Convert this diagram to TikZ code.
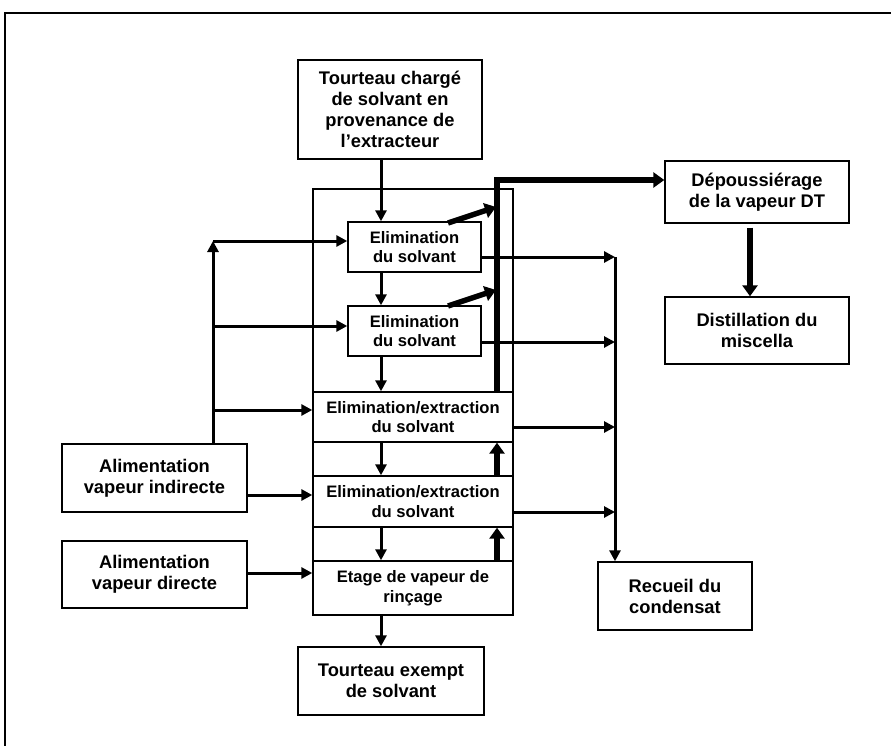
\documentclass[tikz,border=0pt]{standalone}
\usepackage{fontspec}
\setmainfont{Liberation Sans}
\usetikzlibrary{arrows.meta,calc}
\tikzset{
  box/.style={draw, line width=1.4pt, align=center, inner sep=0pt, font=\fontsize{18.3}{21}\selectfont\bfseries},
  ibox/.style={draw, line width=1.4pt, fill=white, align=center, inner sep=0pt, font=\fontsize{16.6}{19.8}\selectfont\bfseries},
  arr/.style={line width=3pt, -{Triangle[length=11pt,width=11pt]}},
  tarr/.style={line width=5.5pt, -{Triangle[length=11pt,width=15pt]}},
}
\begin{document}
\begin{tikzpicture}[x=1pt,y=-1pt]
\useasboundingbox (0,0) rectangle (891,746);
% outer frame (cropped)
\draw[line width=2.5pt] (5,760) -- (5,13) -- (900,13);
% stack container
\node[draw, line width=1.4pt, minimum width=200pt, minimum height=426pt, inner sep=0pt] (stack) at (413,402) {};
% nodes
\node[box, minimum width=184pt, minimum height=99pt] (top) at (390,109.5) {Tourteau chargé\\de solvant en\\provenance de\\l’extracteur};
\node[ibox, minimum width=133pt, minimum height=50pt] (e1) at (414.5,247) {Elimination\\du solvant};
\node[ibox, minimum width=133pt, minimum height=50pt] (e2) at (414.5,331) {Elimination\\du solvant};
\node[ibox, minimum width=200pt, minimum height=50pt] (ee1) at (413,417) {Elimination/extraction\\du solvant};
\node[ibox, minimum width=200pt, minimum height=51pt] (ee2) at (413,501.5) {Elimination/extraction\\du solvant};
\node[ibox, minimum width=200pt, minimum height=54pt] (et) at (413,588) {Etage de vapeur de\\rinçage};
\node[box, minimum width=186pt, minimum height=68pt] (out) at (391,681) {Tourteau exempt\\de solvant};
\node[box, minimum width=154pt, minimum height=68pt] (rec) at (675,596) {Recueil du\\condensat};
\node[box, minimum width=184pt, minimum height=62pt] (dep) at (757,192) {Dépoussiérage\\de la vapeur DT};
\node[box, minimum width=184pt, minimum height=67pt] (dist) at (757,330.5) {Distillation du\\miscella};
\node[box, minimum width=185pt, minimum height=68pt] (ai) at (154.5,478) {Alimentation\\vapeur indirecte};
\node[box, minimum width=185pt, minimum height=67pt] (ad) at (154.5,574.5) {Alimentation\\vapeur directe};
% helper coordinates
\coordinate (X) at (381,0);
\coordinate (V) at (497,0);
\coordinate (C) at (615,0);
\coordinate (L) at (213,0);
\coordinate (T) at (497,180);
\coordinate (R1) at (615,257);
\coordinate (D1s) at (448,223);
\coordinate (D1e) at (496,207);
\coordinate (D2s) at (448,306);
\coordinate (D2e) at (496,290);
\coordinate (B1) at (213,241);
\coordinate (B2) at (213,326);
\coordinate (B3) at (213,410);
% main solid flow (down)
\draw[arr] (top.south -| X) -- (e1.north -| X);
\draw[arr] (e1.south -| X) -- (e2.north -| X);
\draw[arr] (e2.south -| X) -- (ee1.north -| X);
\draw[arr] (ee1.south -| X) -- (ee2.north -| X);
\draw[arr] (ee2.south -| X) -- (et.north -| X);
\draw[arr] (et.south -| X) -- (out.north -| X);
% vapour (up)
\draw[tarr] (et.north -| V) -- (ee2.south -| V);
\draw[tarr] (ee2.north -| V) -- (ee1.south -| V);
\draw[tarr] (ee1.north -| V) -- (T) -- (dep.west |- T);
\draw[tarr] (D1s) -- (D1e);
\draw[tarr] (D2s) -- (D2e);
\draw[tarr] ([yshift=-4pt]dep.south -| 750,0) -- (dist.north -| 750,0);
% condensate
\draw[arr] (e1.east |- R1) -- (R1);
\draw[arr] (e2.east |- 0,342) -- (C |- 0,342);
\draw[arr] (ee1.east |- 0,427) -- (C |- 0,427);
\draw[arr] (ee2.east |- 0,512) -- (C |- 0,512);
\draw[arr] (R1) -- (rec.north -| C);
% steam feeds
\draw[arr] (ai.north -| L) -- (B1);
\draw[arr] (B1) -- (e1.west |- B1);
\draw[arr] (B2) -- (e2.west |- B2);
\draw[arr] (B3) -- (stack.west |- B3);
\draw[arr] (ai.east |- 0,495) -- (stack.west |- 0,495);
\draw[arr] (ad.east |- 0,573) -- (stack.west |- 0,573);
\end{tikzpicture}
\end{document}
